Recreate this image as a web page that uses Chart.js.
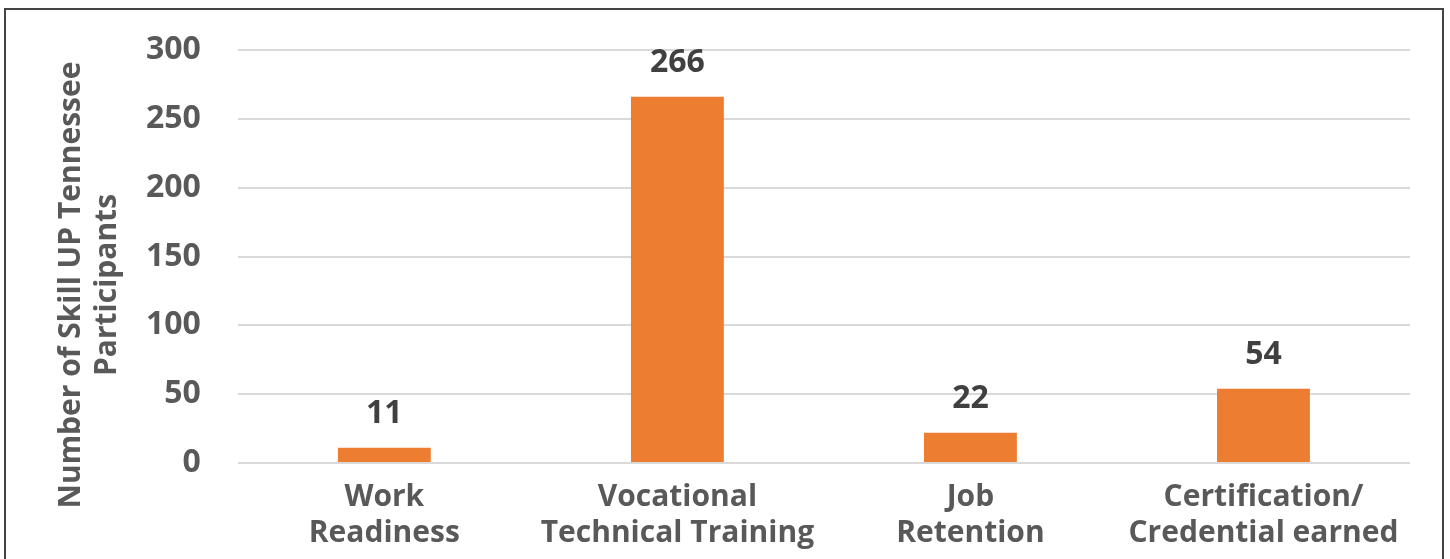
<!DOCTYPE html>
<html>
<head>
<meta charset="utf-8">
<script src="https://cdn.jsdelivr.net/npm/chart.js@4/dist/chart.umd.min.js"></script>
<style>
  html, body { margin: 0; padding: 0; background: #fff; }
  #wrap { position: relative; width: 1450px; height: 559px; overflow: hidden; }
  #frame { position: absolute; left: 4px; top: 8px; width: 1440px; height: 600px; border: 2px solid #444; box-sizing: border-box; pointer-events: none; }
  canvas { position: absolute; left: 0; top: 0; }
</style>
</head>
<body>
<div id="wrap">
  <canvas id="c" width="1450" height="559"></canvas>
  <div id="frame"></div>
</div>
<script>
const categories = [
  ['Work', 'Readiness'],
  ['Vocational', 'Technical Training'],
  ['Job', 'Retention'],
  ['Certification/', 'Credential earned']
];
const participants = [11, 266, 22, 54];
const yTitle = ['Number of Skill UP Tennessee', 'Participants'];
const yMin = 0, yMax = 300, yStep = 50;

const FONT = '"Open Sans", Lato, sans-serif';
const BAR = '#ED7D31';
const AXIS_TEXT = '#595959';
const LABEL_TEXT = '#404040';

const valueLabels = {
  id: 'valueLabels',
  afterDatasetsDraw(chart) {
    const ctx = chart.ctx;
    ctx.save();
    ctx.font = 'bold 32px ' + FONT;
    ctx.fillStyle = LABEL_TEXT;
    ctx.textAlign = 'center';
    ctx.textBaseline = 'middle';
    const meta = chart.getDatasetMeta(0);
    meta.data.forEach((bar, i) => {
      ctx.fillText(String(chart.data.datasets[0].data[i]), bar.x, bar.y - 34);
    });
    ctx.restore();
  }
};

new Chart(document.getElementById('c'), {
  type: 'bar',
  data: {
    labels: categories,
    datasets: [{
      data: participants,
      backgroundColor: BAR,
      borderWidth: 0,
      categoryPercentage: 1,
      barPercentage: 0.317
    }]
  },
  options: {
    responsive: false,
    animation: false,
    layout: { padding: { top: 11, right: 40, bottom: 0, left: 0 } },
    plugins: {
      legend: { display: false },
      tooltip: { enabled: false },
      title: {
        display: true,
        position: 'left',
        fullSize: true,
        text: yTitle,
        color: AXIS_TEXT,
        font: { family: FONT, weight: 'bold', size: 30, lineHeight: 1.18 },
        padding: { top: 54, bottom: 0 }
      }
    },
    scales: {
      x: {
        grid: { display: false, drawTicks: false },
        border: { display: false },
        ticks: {
          color: AXIS_TEXT,
          font: { family: FONT, weight: 'bold', size: 30, lineHeight: 1.2 },
          padding: 16,
          maxRotation: 0,
          autoSkip: false
        },
        afterFit(scale) { scale.height = 96; }
      },
      y: {
        min: yMin, max: yMax,
        grid: { color: '#D9D9D9', lineWidth: 2, drawTicks: false },
        border: { display: false },
        ticks: {
          stepSize: yStep,
          color: AXIS_TEXT,
          font: { family: FONT, weight: 'bold', size: 32, lineHeight: 0.8125 },
          padding: 37
        },
        afterFit(scale) { scale.width = 113; }
      }
    }
  },
  plugins: [valueLabels]
});
</script>
</body>
</html>
